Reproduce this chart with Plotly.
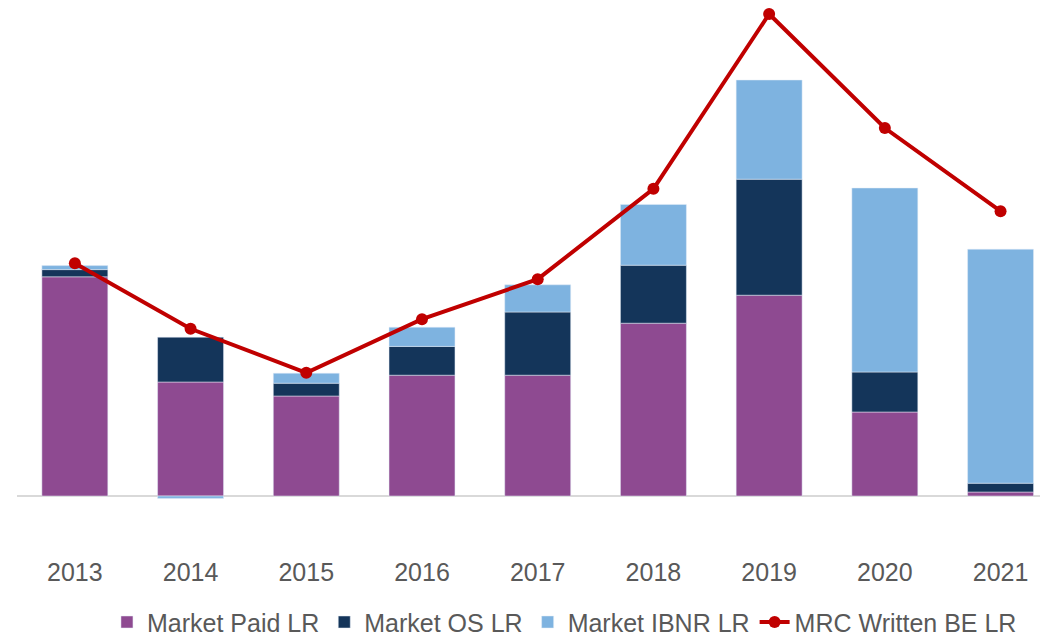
import plotly.graph_objects as go

years = ["2013", "2014", "2015", "2016", "2017", "2018", "2019", "2020", "2021"]
paid_lr = [54.8, 28.5, 25.0, 30.2, 30.2, 43.2, 50.2, 21.0, 1.0]
os_lr = [1.8, 11.2, 3.2, 7.2, 15.8, 14.5, 29.0, 10.0, 2.2]
ibnr_lr = [1.0, -0.6, 2.5, 4.8, 6.8, 15.2, 24.8, 46.0, 58.5]
mrc_be_lr = [58.2, 41.8, 30.8, 44.2, 54.2, 76.8, 120.5, 92.0, 71.2]

font_family = "Liberation Sans, Arial, sans-serif"

fig = go.Figure()
fig.add_trace(go.Bar(x=years, y=paid_lr, name="Market Paid LR", marker_color="#8E4A91"))
fig.add_trace(go.Bar(x=years, y=os_lr, name="Market OS LR", marker_color="#14355A"))
fig.add_trace(go.Bar(x=years, y=ibnr_lr, name="Market IBNR LR", marker_color="#7EB3E0"))
fig.add_trace(go.Scatter(
    x=years, y=mrc_be_lr, name="MRC Written BE LR", mode="lines+markers",
    line=dict(color="#C00000", width=4), marker=dict(color="#C00000", size=12),
))

# page body has an 8px margin, so the figure is sized to fit the window
fig.update_layout(
    width=1040, height=630,
    barmode="relative", bargap=0.43,
    plot_bgcolor="white", paper_bgcolor="white",
    margin=dict(l=9, r=0, t=0, b=83, autoexpand=False),
    font=dict(family=font_family, size=24, color="#595959"),
    showlegend=True,
    legend=dict(orientation="h", x=0.531, xanchor="center", y=0.025, yanchor="middle",
                yref="container", traceorder="normal",
                font=dict(size=25, color="#595959"), tracegroupgap=0),
)
fig.update_xaxes(range=[-0.5, 8.41], showline=False, showgrid=False, ticks="",
                 tickfont=dict(size=25, color="#595959"))
fig.update_yaxes(range=[-14.75, 122], showgrid=False, showticklabels=False,
                 zeroline=True, zerolinecolor="#D9D9D9", zerolinewidth=2)

fig.write_html("out.html")
